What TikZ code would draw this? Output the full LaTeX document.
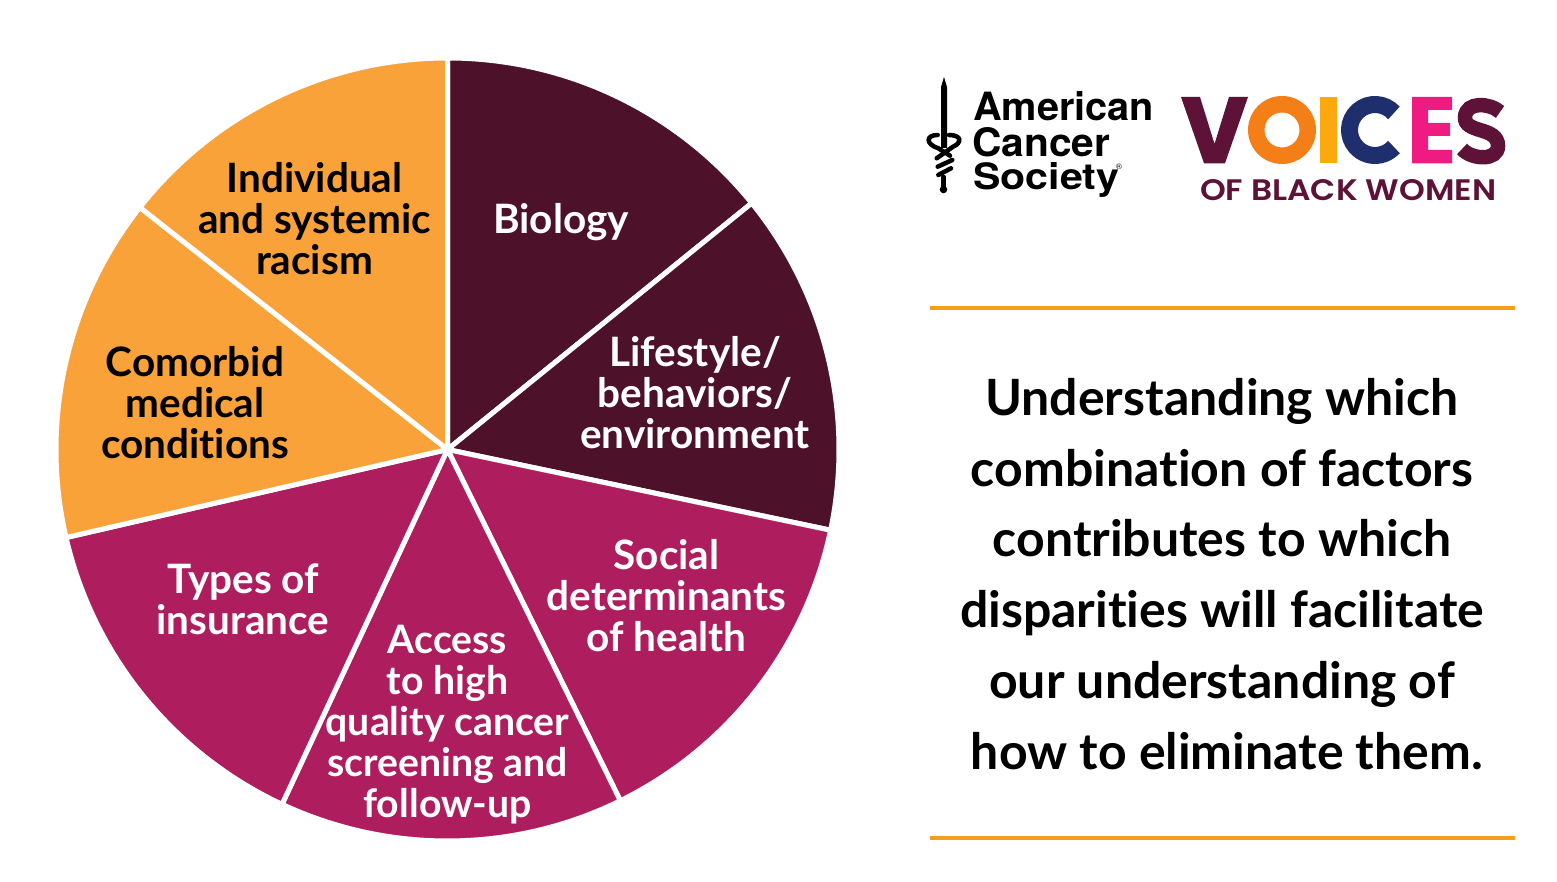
\documentclass[tikz,border=0pt]{standalone}
\usepackage{graphicx}
\usepackage{fontspec}
\setmainfont{Lato}[Ligatures=CommonOff]
\newfontfamily\logofont{Poppins SemiBold}
\newfontfamily\acsfont{TeX Gyre Heros}
\definecolor{darkwine}{HTML}{4D1129}
\definecolor{crimson}{HTML}{AE1E5E}
\definecolor{amber}{HTML}{FAA23A}
\definecolor{rulecol}{HTML}{F59E1A}
\definecolor{vmaroon}{HTML}{5E1237}
\definecolor{vorange}{HTML}{F57F17}
\definecolor{vyellow}{HTML}{FBA90F}
\definecolor{vblue}{HTML}{1F2F6E}
\definecolor{vpink}{HTML}{EE1C80}
\newcommand{\fit}[3]{\resizebox{#1pt}{#2pt}{#3}}
\tikzset{
  x=1pt,y=1pt,
  wedge/.style={draw=white,line width=5pt,line join=round},
  pielabel/.style={align=center,font=\fontsize{40.5}{41}\selectfont\bfseries,inner sep=0pt},
  smallpielabel/.style={align=center,font=\fontsize{39.2}{41}\selectfont\bfseries,inner sep=0pt},
  bodytext/.style={align=center,font=\fontsize{50}{70.8}\selectfont\bfseries,inner sep=0pt,text=black},
  acsline/.style={inner sep=0pt,anchor=base west,font=\acsfont\bfseries,text=black},
  hrule/.style={draw=rulecol,line width=4pt},
  snake/.style={draw=black,line width=4.5pt,line cap=round}
}
\begin{document}
\begin{tikzpicture}
\useasboundingbox (0,0) rectangle (1557,882);
\fill[white] (0,0) rectangle (1557,882);
% pie
\coordinate (c) at (447.5,432.5);
\fill[wedge,fill=darkwine] (c) -- ++(90:391.5) arc[start angle=90,end angle=39,radius=391.5] -- cycle;
\fill[wedge,fill=darkwine] (c) -- ++(39:391.5) arc[start angle=39,end angle=-11.9,radius=391.5] -- cycle;
\fill[wedge,fill=crimson] (c) -- ++(-11.9:391.5) arc[start angle=-11.9,end angle=-63.8,radius=391.5] -- cycle;
\fill[wedge,fill=crimson] (c) -- ++(-63.8:391.5) arc[start angle=-63.8,end angle=-115,radius=391.5] -- cycle;
\fill[wedge,fill=crimson] (c) -- ++(-115:391.5) arc[start angle=-115,end angle=-167,radius=391.5] -- cycle;
\fill[wedge,fill=amber] (c) -- ++(-167:391.5) arc[start angle=-167,end angle=-218.2,radius=391.5] -- cycle;
\fill[wedge,fill=amber] (c) -- ++(141.8:391.5) arc[start angle=141.8,end angle=90,radius=391.5] -- cycle;
\node[pielabel,text=white] (biology) at (561,660) {Biology};
\node[pielabel,text=white] (lifestyle) at (695,489) {Lifestyle/\\behaviors/\\environment};
\node[pielabel,text=white] (social) at (666.5,286) {Social\\determinants\\of health};
\node[smallpielabel,text=white] (access) at (447.5,157) {Access\\to high\\quality cancer\\screening and\\follow-up};
\node[pielabel,text=white] (insurance) at (243,283) {Types of\\insurance};
\node[pielabel,text=black] (comorbid) at (195,479) {Comorbid\\medical\\conditions};
\node[pielabel,text=black] (racism) at (314.5,663) {Individual\\and systemic\\racism};
% right text
\node[bodytext] (body) at (1222,308) {Understanding which\\combination of factors\\contributes to which\\disparities will facilitate\\our understanding of\\\hspace*{10pt}how to eliminate them.};
\coordinate (r1a) at (930,574); \coordinate (r1b) at (1515,574);
\coordinate (r2a) at (930,44); \coordinate (r2b) at (1515,44);
\draw[hrule] (r1a) -- (r1b);
\draw[hrule] (r2a) -- (r2b);
% ACS logo text
\node[acsline] (acs1) at (973,761) {\fit{181}{29}{American}};
\node[acsline] (acs2) at (972,725) {\fit{138}{29}{Cancer}};
\node[acsline] (acs3) at (973,692) {\fit{146}{27}{Society}};
\node[inner sep=0pt,font=\acsfont\fontsize{8}{8}\selectfont] (acsr) at (1119,715) {®};
% ACS sword and serpent
\fill[black] (941,734) -- (941,795) -- (944,805) -- (947,795) -- (947,734) -- cycle;
\draw[snake] (937.7,747) .. controls (926,747) and (925,738) .. (938.3,733.7) -- (950,726.3);
\draw[snake] (949,747) .. controls (962,747) and (962,739) .. (953,735.3) -- (936.7,723.7);
\draw[snake] (937.7,715.3) -- (952.3,722);
\draw[snake] (938.3,707) -- (951,713.7);
\draw[snake] (943.5,705) -- (943.5,692);
\fill[black] (943.5,692.5) circle[radius=3.8];
% VOICES logo
\fill[vmaroon] (1181,785) -- (1200,785) -- (1214.5,738) -- (1229,785) -- (1248,785) -- (1225,718.7) -- (1204,718.7) -- cycle;
\fill[vorange,even odd rule] (1282,752) circle[radius=34] (1282,752) circle[radius=17.5];
\fill[vyellow] (1320,718.7) rectangle (1337,785);
\draw[vblue,line width=17pt] ([shift={(42:25.5)}]1375,752) arc[start angle=42,end angle=318,radius=25.5];
\fill[vpink] (1412,718.7) -- (1412,785) -- (1452,785) -- (1452,772) -- (1428,772) -- (1428,759) -- (1450,759) -- (1450,746) -- (1428,746) -- (1428,732) -- (1452,732) -- (1452,718.7) -- cycle;
\draw[vmaroon,line width=14.5pt] (1500,770) .. controls (1490,779) and (1466,781) .. (1465,765) .. controls (1464,748) and (1498,756) .. (1498,736) .. controls (1498,721) and (1472,722) .. (1462,733);
\node[inner sep=0pt,anchor=base west,text=vmaroon,font=\logofont] (vob) at (1200,681) {\fit{296}{21}{OF BLACK WOMEN}};
\end{tikzpicture}
\end{document}
